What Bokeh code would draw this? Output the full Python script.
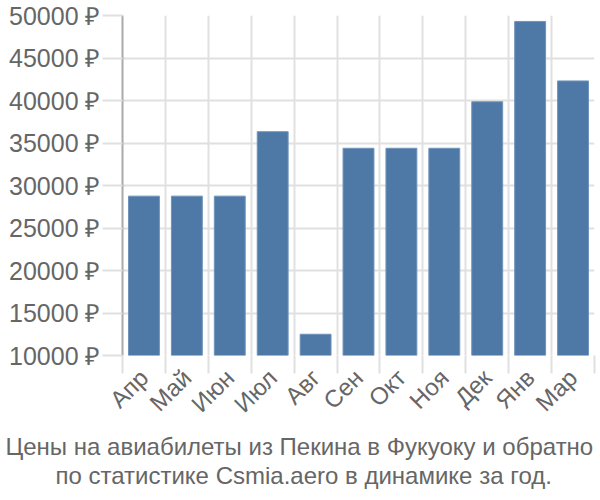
import math
from bokeh.plotting import figure
from bokeh.models import FixedTicker, Range1d, Title, ColumnDataSource
from bokeh.embed import file_html
from bokeh.resources import INLINE

months = ["Апр", "Май", "Июн", "Июл", "Авг", "Сен", "Окт", "Ноя", "Дек", "Янв", "Мар"]
prices = [28750, 28750, 28750, 36330, 12500, 34380, 34380, 34380, 39850, 49300, 42300]
y_ticks = [10000, 15000, 20000, 25000, 30000, 35000, 40000, 45000, 50000]
title_lines = ["Цены на авиабилеты из Пекина в Фукуоку и обратно",
               "по статистике Csmia.aero в динамике за год."]

n = len(months)
centers = [i + 0.5 for i in range(n)]
bounds = [i for i in range(n + 1)]
src = ColumnDataSource(dict(x=centers, top=prices, bottom=[y_ticks[0]] * n))

FONT = "Liberation Sans"
GRAY = "#666666"

p = figure(width=600, height=500, output_backend="svg", toolbar_location=None,
           x_range=Range1d(0, n), y_range=Range1d(10000, 50000),
           min_border_left=122, min_border_right=6, min_border_top=15, min_border_bottom=145)
p.outline_line_color = None
p.background_fill_color = "white"

p.vbar(x="x", top="top", bottom="bottom", width=0.72, source=src,
       fill_color="#4e79a7", line_color="#6f93bb", line_width=1)

# y axis
yax = p.yaxis[0]
yax.ticker = FixedTicker(ticks=y_ticks)
yax.major_label_overrides = {t: f"{t} ₽" for t in y_ticks}
yax.major_label_text_font = FONT
yax.major_label_text_font_size = "25px"
yax.major_label_text_color = GRAY
yax.major_tick_out = 20
yax.major_tick_in = 0
yax.major_tick_line_color = "#e0e0e0"
yax.major_tick_line_width = 2
yax.minor_tick_line_color = None
yax.axis_line_color = "#aaaaaa"
yax.axis_line_width = 2
yax.major_label_standoff = 2

# x axis
xax = p.xaxis[0]
xax.ticker = FixedTicker(ticks=centers, minor_ticks=bounds)
xax.major_label_overrides = {c: m for c, m in zip(centers, months)}
xax.major_label_orientation = math.pi / 4
xax.major_label_text_font = FONT
xax.major_label_text_font_size = "24px"
xax.major_label_text_color = GRAY
xax.major_tick_line_color = None
xax.minor_tick_out = 18
xax.minor_tick_in = 0
xax.minor_tick_line_color = "#e0e0e0"
xax.minor_tick_line_width = 2
xax.axis_line_color = None
xax.major_label_standoff = 0

p.xgrid.ticker = FixedTicker(ticks=bounds)
p.ygrid.ticker = FixedTicker(ticks=y_ticks)
p.xgrid.grid_line_color = "#e0e0e0"
p.ygrid.grid_line_color = "#e0e0e0"
p.xgrid.grid_line_width = 2
p.ygrid.grid_line_width = 2

for line, off in zip(title_lines, [-117, -67]):
    t = Title(text=line, align="left", text_font=FONT, text_font_size="24px",
              text_color=GRAY, text_font_style="normal", standoff=0, offset=off)
    p.add_layout(t, "below")

open("out.html", "w").write(file_html(p, INLINE))
